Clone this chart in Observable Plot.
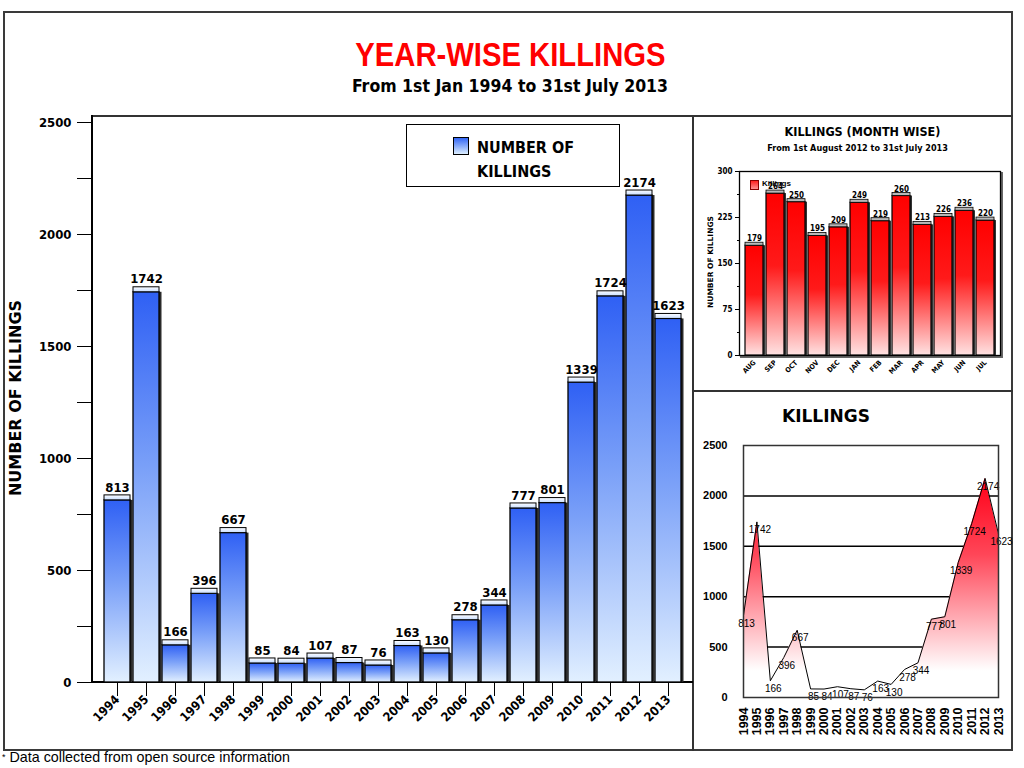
<!DOCTYPE html>
<html><head><meta charset="utf-8">
<script src="https://cdn.jsdelivr.net/npm/d3@7"></script>
<script src="https://cdn.jsdelivr.net/npm/@observablehq/plot@0.6"></script>
<style>
body{margin:0;background:#fff;}
#page{position:relative;width:1024px;height:768px;overflow:hidden;background:#fff;}
.abs{position:absolute;}
.ln{position:absolute;background:#333;}
.cb{font-family:"DejaVu Sans Condensed","DejaVu Sans",sans-serif;font-weight:bold;}
</style></head><body><div id="page">
<div class="abs" style="left:3px;top:11px;width:1010px;height:740px;border:2px solid #3a3a3a;box-sizing:border-box;"></div>
<div class="ln" style="left:92px;top:115px;width:921px;height:2px;"></div>
<div class="ln" style="left:692px;top:115px;width:2px;height:636px;"></div>
<div class="ln" style="left:692px;top:390px;width:321px;height:2px;"></div>
<div class="ln" style="left:91px;top:115px;width:2px;height:568px;background:#000;"></div>
<div class="ln" style="left:91px;top:681px;width:602px;height:2px;background:#000;"></div>

<div class="abs" style="left:0;top:34px;width:1020px;text-align:center;">
  <span style="display:inline-block;transform:scaleX(0.86);transform-origin:center;font-family:'Liberation Sans',sans-serif;font-weight:bold;font-size:34px;color:#f00;line-height:40px;">YEAR-WISE KILLINGS</span>
</div>
<div class="abs cb" style="left:0;top:75px;width:1020px;text-align:center;font-size:17.5px;line-height:22px;color:#000;">From 1st Jan 1994 to 31st July 2013</div>

<div class="abs" style="left:0;top:398px;width:0;height:0;">
  <div class="abs" style="left:15px;top:0;transform:translate(-50%,-50%) rotate(-90deg);white-space:nowrap;font-family:'DejaVu Sans',sans-serif;font-weight:bold;font-size:16px;">NUMBER OF KILLINGS</div>
</div>

<div id="main" class="abs" style="left:0;top:110px;width:700px;height:640px;"></div>

<div class="abs" style="left:406px;top:124px;width:214px;height:63px;border:1.5px solid #000;box-sizing:border-box;background:#fff;"></div>
<div class="abs" style="left:453px;top:137px;width:14px;height:16px;border:1px solid #000;background:linear-gradient(#3366f5,#dceeff);"></div>
<div class="abs cb" style="left:477px;top:136px;font-size:16px;line-height:24px;">NUMBER OF<br>KILLINGS</div>

<div class="abs cb" style="left:695px;top:124px;width:335px;text-align:center;font-size:12.5px;line-height:16px;">KILLINGS (MONTH WISE)</div>
<div class="abs cb" style="left:695px;top:142px;width:325px;text-align:center;font-size:9px;line-height:12px;">From 1st August 2012 to 31st July 2013</div>
<div class="abs" style="left:0;top:262px;width:0;height:0;">
  <div class="abs" style="left:710px;top:0;transform:translate(-50%,-50%) rotate(-90deg);white-space:nowrap;font-family:'DejaVu Sans',sans-serif;font-weight:bold;font-size:7.5px;">NUMBER OF KILLINGS</div>
</div>
<div id="month" class="abs" style="left:695px;top:116px;width:325px;height:274px;"></div>
<div class="abs" style="left:750px;top:180px;width:7px;height:8px;border:1px solid #800;background:linear-gradient(#ff2020,#ff9090);"></div>
<div class="abs" style="left:762px;top:179px;font-family:'Liberation Sans',sans-serif;font-weight:bold;font-size:8px;line-height:10px;">Killings</div>

<div class="abs" style="left:782px;top:405px;width:85px;text-align:center;font-family:'DejaVu Sans',sans-serif;font-weight:bold;font-size:17px;line-height:22px;">KILLINGS</div>
<div id="line" class="abs" style="left:695px;top:390px;width:325px;height:360px;"></div>

<div class="abs" style="left:2px;top:749px;font-family:'Liberation Sans',sans-serif;font-size:14.3px;line-height:17px;color:#000;"><span style="font-size:9px;vertical-align:top;">*</span> Data collected from open source information</div>
</div>
<script>
const years = ["1994","1995","1996","1997","1998","1999","2000","2001","2002","2003","2004","2005","2006","2007","2008","2009","2010","2011","2012","2013"];
const killings = [813,1742,166,396,667,85,84,107,87,76,163,130,278,344,777,801,1339,1724,2174,1623];
const months = ["AUG","SEP","OCT","NOV","DEC","JAN","FEB","MAR","APR","MAY","JUN","JUL"];
const monthKillings = [179,264,250,195,209,249,219,260,213,226,236,220];
const mainYTicks = [0,250,500,750,1000,1250,1500,1750,2000,2250,2500];
const mainYLabels = [0,500,1000,1500,2000,2500];
const monthYTicks = [0,75,150,225,300];
const monthYMinor = [37.5,112.5,187.5,262.5];
const lineYTicks = [0,500,1000,1500,2000,2500];
const lineGrid = [500,1000,1500,2000];

const SVGNS = "http://www.w3.org/2000/svg";
function addDefs(svg, html){
  const defs = document.createElementNS(SVGNS,"defs");
  defs.innerHTML = html;
  svg.insertBefore(defs, svg.firstChild);
}

// Main bar chart
const yearData = years.map((y,i)=>({year:y, value:killings[i]}));
const main = Plot.plot({
  width:700, height:640, marginLeft:92, marginRight:7, marginTop:12, marginBottom:68,
  style:{background:"none", fontFamily:"'DejaVu Sans Condensed','DejaVu Sans',sans-serif", fontWeight:"bold", fontSize:"13px", color:"#000"},
  x:{domain:years, padding:0.12, label:null},
  y:{domain:[0,2500], label:null},
  marks:[
    Plot.barY(yearData,{x:"year", y:"value", fill:"#2a2a2a", dx:2.5}),
    Plot.barY(yearData,{x:"year", y:"value", fill:"url(#gBlue)", stroke:"#000", strokeWidth:1.3}),
    Plot.barY(yearData,{x:"year", y1:"value", y2:"value", insetTop:-5, fill:"url(#gCap)", stroke:"#000", strokeWidth:1}),
    Plot.text(yearData,{x:"year", y:"value", text:d=>String(d.value), dy:-13, fontSize:13, fill:"#000"}),
    Plot.axisY({ticks:mainYTicks, tickSize:15, tickPadding:6, stroke:"#000", tickFormat:d=> mainYLabels.includes(d) ? String(d) : "", fontSize:13}),
    Plot.axisX({tickRotate:-45, tickSize:14, tickPadding:1, fontSize:12.5, stroke:"#000"})
  ]
});
addDefs(main, `
<linearGradient id="gBlue" x1="0" y1="0" x2="0" y2="1">
  <stop offset="0" stop-color="#2f60f4"/><stop offset="0.45" stop-color="#7aa0f8"/><stop offset="1" stop-color="#e2f0ff"/>
</linearGradient>
<linearGradient id="gCap" x1="0" y1="0" x2="0" y2="1">
  <stop offset="0" stop-color="#ffffff"/><stop offset="1" stop-color="#c6dcff"/>
</linearGradient>`);
document.getElementById("main").appendChild(main);

// Monthly chart
const monthData = months.map((m,i)=>({month:m, value:monthKillings[i]}));
const month = Plot.plot({
  width:325, height:274, marginLeft:44, marginRight:20, marginTop:55, marginBottom:35,
  style:{background:"none", fontFamily:"'DejaVu Sans Condensed','DejaVu Sans',sans-serif", fontWeight:"bold", fontSize:"8px", color:"#000"},
  x:{domain:months, padding:0.12, label:null},
  y:{domain:[0,300], label:null},
  marks:[
    Plot.frame({stroke:"#666", strokeWidth:2, dx:1.5, dy:1.5}),
    Plot.frame({stroke:"#000", strokeWidth:1.3, fill:"#fff"}),
    Plot.barY(monthData,{x:"month", y:"value", fill:"#333", dx:2}),
    Plot.barY(monthData,{x:"month", y:"value", fill:"url(#gRed)", stroke:"#000", strokeWidth:1.2}),
    Plot.barY(monthData,{x:"month", y1:"value", y2:"value", insetTop:-3, fill:"#b8b8b8", stroke:"#000", strokeWidth:0.8}),
    Plot.text(monthData,{x:"month", y:"value", text:d=>String(d.value), dy:-7, fontSize:8, fill:"#000"}),
    Plot.axisY({ticks:monthYTicks, tickSize:4, tickPadding:3, fontSize:8, stroke:"#000"}),
    Plot.axisY({ticks:monthYMinor, tickSize:2, tickFormat:()=>"", stroke:"#000"}),
    Plot.axisX({tickRotate:-45, tickSize:0, tickPadding:6, fontSize:7})
  ]
});
addDefs(month, `
<linearGradient id="gRed" x1="0" y1="0" x2="0" y2="1">
  <stop offset="0" stop-color="#ff0000"/><stop offset="0.45" stop-color="#ff1a1a"/><stop offset="1" stop-color="#ffe2e2"/>
</linearGradient>`);
document.getElementById("month").appendChild(month);

// Line/area chart
const lineData = years.map((y,i)=>({year:+y, value:killings[i]}));
const line = Plot.plot({
  width:325, height:360, marginLeft:48, marginRight:22, marginTop:55, marginBottom:53,
  style:{background:"none", fontFamily:"'Liberation Sans',Arial,sans-serif", fontWeight:"bold", fontSize:"11px", color:"#000"},
  x:{domain:[1994,2013], label:null},
  y:{domain:[0,2500], label:null},
  marks:[
    Plot.ruleY(lineGrid,{stroke:"#000", strokeWidth:1.5}),
    Plot.areaY(lineData,{x:"year", y:"value", fill:"url(#gArea)"}),
    Plot.lineY(lineData,{x:"year", y:"value", stroke:"#000", strokeWidth:1}),
    Plot.text(lineData,{x:"year", y:"value", text:d=>String(d.value), dy:8, dx:3, fontSize:10, fontWeight:"normal", fill:"#000"}),
    Plot.frame({stroke:"#333", strokeWidth:1.5}),
    Plot.axisY({ticks:lineYTicks, tickSize:0, tickPadding:16, tickFormat:d=>String(d), fontSize:11}),
    Plot.axisX({ticks:years.map(Number), tickFormat:d=>String(d), tickRotate:-90, tickSize:0, tickPadding:10, fontSize:12.5})
  ]
});
addDefs(line, `
<linearGradient id="gArea" x1="0" y1="0" x2="0" y2="1">
  <stop offset="0" stop-color="#ff0018"/><stop offset="0.35" stop-color="#ff4658"/><stop offset="0.88" stop-color="#ffffff"/><stop offset="1" stop-color="#ffffff"/>
</linearGradient>`);
document.getElementById("line").appendChild(line);
</script>
</body></html>
